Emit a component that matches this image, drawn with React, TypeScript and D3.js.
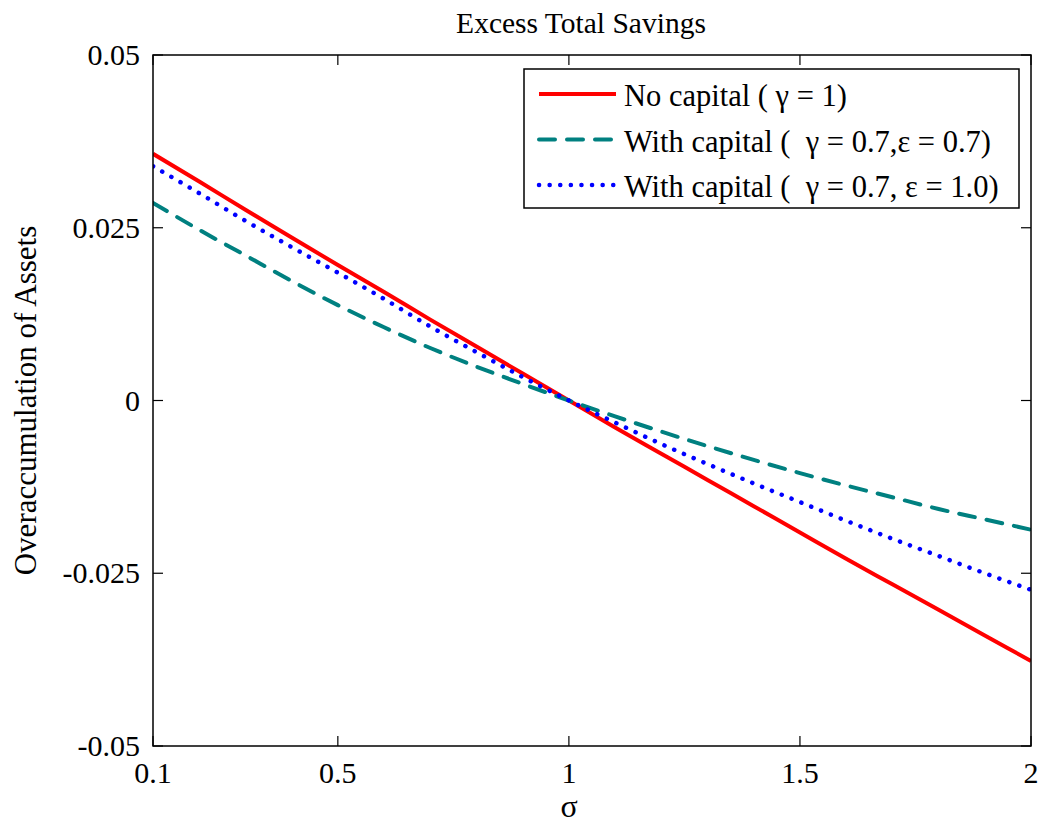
import React from "react";
import * as d3 from "d3";

const sigma = [0.1, 0.2, 0.3, 0.4, 0.5, 0.6, 0.7, 0.8, 0.9, 1.0, 1.1, 1.2, 1.3, 1.4, 1.5, 1.6, 1.7, 1.8, 1.9, 2.0];
const noCapital = [0.0357, 0.0317, 0.0276, 0.0236, 0.0196, 0.0157, 0.0117, 0.0078, 0.0039, 0, -0.0039, -0.0077, -0.0115, -0.0153, -0.0191, -0.0229, -0.0266, -0.0303, -0.034, -0.0377];
const withCapital07 = [0.0286, 0.0247, 0.021, 0.0173, 0.0138, 0.0106, 0.0076, 0.0049, 0.0024, 0, -0.0023, -0.0045, -0.0066, -0.0086, -0.0105, -0.0123, -0.014, -0.0157, -0.0172, -0.0187];
const withCapital10 = [0.0339, 0.03, 0.026, 0.0222, 0.0185, 0.0147, 0.0107, 0.007, 0.0034, 0, -0.0032, -0.0063, -0.0092, -0.012, -0.0147, -0.0174, -0.02, -0.0225, -0.025, -0.0274];
const xTicks = [0.1, 0.5, 1, 1.5, 2];
const xTickLabels = ["0.1", "0.5", "1", "1.5", "2"];
const yTicks = [0.05, 0.025, 0, -0.025, -0.05];
const yTickLabels = ["0.05", "0.025", "0", "-0.025", "-0.05"];
const seriesNames = [
  "No capital ( \u03b3 = 1)",
  "With capital (  \u03b3 = 0.7,\u03b5 = 0.7)",
  "With capital (  \u03b3 = 0.7, \u03b5 = 1.0)",
];
const title = "Excess Total Savings";
const xLabel = "\u03c3";
const yLabel = "Overaccumulation of Assets";

const FONT = "'Liberation Serif', 'Times New Roman', serif";

export default function App() {
  const W = 1041, H = 825;
  const L = 153, R = 1031, T = 55, B = 746;
  const x = d3.scaleLinear().domain([0.1, 2]).range([L, R]);
  const y = d3.scaleLinear().domain([-0.05, 0.05]).range([B, T]);
  const line = d3.line<number>().x((_, i) => x(sigma[i])).y((d) => y(d)).curve(d3.curveMonotoneX);

  const styles = [
    { color: "#ff0000", dash: undefined as string | undefined, width: 4, cap: "butt" },
    { color: "#008080", dash: "16 12", width: 4, cap: "round" },
    { color: "#0000ff", dash: "0.1 10.5", width: 4.5, cap: "round" },
  ];
  const data = [noCapital, withCapital07, withCapital10];
  const tickLen = 10;

  return (
    <svg width={W} height={H} style={{ position: "absolute", left: 0, top: 0, background: "#fff" }} fontFamily={FONT}>
      <rect x={0} y={0} width={W} height={H} fill="#fff" />
      <defs>
        <clipPath id="plotclip">
          <rect x={L} y={T} width={R - L} height={B - T} />
        </clipPath>
      </defs>
      <text x={581} y={33} fontSize={29.5} textAnchor="middle" fill="#000">{title}</text>

      {data.map((d, i) => (
        <path key={i} d={line(d) || ""} fill="none" stroke={styles[i].color} strokeWidth={styles[i].width}
          strokeDasharray={styles[i].dash} strokeLinecap={styles[i].cap as any} clipPath="url(#plotclip)" />
      ))}

      <rect x={L} y={T} width={R - L} height={B - T} fill="none" stroke="#000" strokeWidth={1.5} />
      {xTicks.map((t, i) => (
        <g key={"x" + i}>
          <line x1={x(t)} x2={x(t)} y1={B} y2={B - tickLen} stroke="#000" strokeWidth={1.2} />
          <line x1={x(t)} x2={x(t)} y1={T} y2={T + tickLen} stroke="#000" strokeWidth={1.2} />
          <text x={x(t)} y={783} fontSize={30} textAnchor="middle" fill="#000">{xTickLabels[i]}</text>
        </g>
      ))}
      {yTicks.map((t, i) => (
        <g key={"y" + i}>
          <line x1={L} x2={L + tickLen} y1={y(t)} y2={y(t)} stroke="#000" strokeWidth={1.2} />
          <line x1={R} x2={R - tickLen} y1={y(t)} y2={y(t)} stroke="#000" strokeWidth={1.2} />
          <text x={140} y={y(t) + 10} fontSize={30} textAnchor="end" fill="#000">{yTickLabels[i]}</text>
        </g>
      ))}
      <text x={569} y={817} fontSize={32} textAnchor="middle" fill="#000">{xLabel}</text>
      <text transform={`translate(36, ${(T + B) / 2}) rotate(-90)`} fontSize={31} textAnchor="middle" fill="#000">{yLabel}</text>

      <rect x={524} y={69} width={495} height={139} fill="#fff" stroke="#000" strokeWidth={1.5} />
      {seriesNames.map((name, i) => {
        const cy = 94 + i * 45.5;
        return (
          <g key={"lg" + i}>
            <line x1={539} x2={616} y1={cy} y2={cy} stroke={styles[i].color} strokeWidth={styles[i].width}
              strokeDasharray={styles[i].dash} strokeLinecap={styles[i].cap as any} />
            <text x={624} y={cy + 12} fontSize={30.5} fill="#000" style={{ whiteSpace: "pre" }}>{name}</text>
          </g>
        );
      })}
    </svg>
  );
}
